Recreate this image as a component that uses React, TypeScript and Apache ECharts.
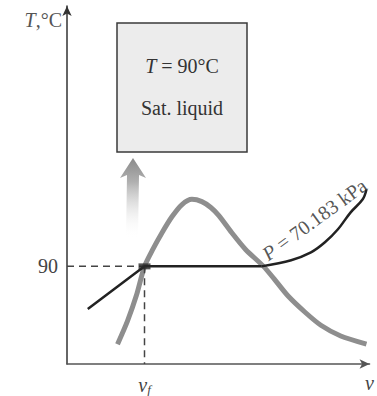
import React, { useEffect, useRef } from "react";
import * as echarts from "echarts";

// Axis settings (data units)
const tempMin = 60;
const tempMax = 170;
const tempInterval = 30;
const tempLabeled = 90;
const volMin = 0;
const volMax = 97.6;
const vF = 25;

// Saturation dome (specific volume v, temperature T)
const domeV = [16.3, 19.5, 22.4, 25.0, 27.5, 30.7, 33.9, 37.1, 40.3, 43.5, 46.4, 49.0, 53.1, 57.6, 63.4, 67.2, 71.4, 76.8, 81.9, 88.3, 96.6];
const domeT = [66.1, 73.2, 81.1, 90.0, 94.9, 100.4, 105.3, 109.0, 110.6, 109.9, 108.1, 105.6, 100.4, 95.2, 90.0, 85.7, 80.8, 75.9, 71.9, 68.6, 66.1];

// Isobar P = 70.183 kPa: compressed-liquid + saturated mixture segment
const isoStraightV = [6.7, 25.0, 62.7];
const isoStraightT = [76.9, 90.0, 90.0];
// Isobar: superheated-vapour segment
const isoCurveV = [62.7, 72.3, 78.7, 83.2, 87.4, 91.5, 95.4, 96.6];
const isoCurveT = [90.0, 91.9, 94.3, 97.4, 101.4, 106.6, 110.6, 113.6];

const isobarLabelPos = [79.8, 104.4];

const zip = (a: number[], b: number[]) => a.map((v, i) => [v, b[i]]);

const FONT = "'Liberation Serif', 'DejaVu Serif', serif";

export default function App() {
  const ref = useRef<HTMLDivElement>(null);
  useEffect(() => {
    if (!ref.current) return;
    const chart = echarts.init(ref.current, null, { renderer: "svg" });
    chart.setOption({
      animation: false,
      backgroundColor: "#ffffff",
      grid: { left: 67, right: 5, top: 6, bottom: 31 },
      xAxis: {
        type: "value",
        min: volMin,
        max: volMax,
        interval: vF,
        axisLine: {
          show: true,
          lineStyle: { color: "#555", width: 1.5 },
          symbol: ["none", "arrow"],
          symbolSize: [7, 10],
        },
        axisTick: { show: false },
        splitLine: { show: false },
        axisLabel: {
          margin: 9,
          showMaxLabel: true,
          formatter: (v: number) => (v === vF ? "{i|v}{s|f}" : v === volMax ? "{i|v}" : ""),
          rich: {
            i: { fontFamily: FONT, fontStyle: "italic", fontSize: 20, color: "#444" },
            s: { fontFamily: FONT, fontStyle: "italic", fontSize: 13, color: "#444", padding: [10, 0, 0, 0] },
          },
        },
      },
      yAxis: {
        type: "value",
        min: tempMin,
        max: tempMax,
        interval: tempInterval,
        name: "{i|T},°C",
        nameLocation: "end",
        nameGap: -14,
        nameTextStyle: {
          align: "right",
          verticalAlign: "middle",
          padding: [0, 5, 0, 0],
          fontFamily: FONT,
          fontSize: 20,
          color: "#555",
          rich: {
            i: { fontFamily: FONT, fontStyle: "italic", fontSize: 20, color: "#555" },
          },
        },
        axisLine: {
          show: true,
          lineStyle: { color: "#333", width: 1.5 },
          symbol: ["none", "arrow"],
          symbolSize: [7, 10],
        },
        axisTick: { show: false },
        splitLine: { show: false },
        axisLabel: {
          margin: 9,
          fontFamily: FONT,
          fontSize: 20,
          color: "#444",
          formatter: (v: number) => (v === tempLabeled ? String(tempLabeled) : ""),
        },
      },
      graphic: [
        {
          type: "rect",
          shape: { x: 117, y: 23, width: 130, height: 129 },
          style: { fill: "#ececec", stroke: "#3a3a3a", lineWidth: 1.5 },
          z: 10,
        },
        {
          type: "text",
          x: 182,
          y: 66,
          style: {
            text: "{i|T} = 90°C",
            align: "center",
            verticalAlign: "middle",
            font: `20px ${FONT}`,
            fill: "#333",
            rich: { i: { fontStyle: "italic", fontFamily: FONT, fontSize: 20, fill: "#333" } as any },
          },
          z: 11,
        },
        {
          type: "text",
          x: 182,
          y: 108,
          style: {
            text: "Sat. liquid",
            align: "center",
            verticalAlign: "middle",
            font: `20px ${FONT}`,
            fill: "#333",
          },
          z: 11,
        },
        {
          type: "polygon",
          shape: {
            points: [
              [133, 158],
              [146, 178],
              [139, 175],
              [138, 238],
              [126, 238],
              [127, 175],
              [120, 178],
            ],
          },
          style: {
            fill: {
              type: "linear",
              x: 0,
              y: 0,
              x2: 0,
              y2: 1,
              colorStops: [
                { offset: 0, color: "#8a8a8a" },
                { offset: 0.3, color: "#b0b0b0" },
                { offset: 1, color: "rgba(255,255,255,0)" },
              ],
            },
          },
          z: 1,
        },
      ],
      series: [
        {
          type: "line",
          data: zip(domeV, domeT),
          smooth: 0.25,
          symbol: "none",
          lineStyle: { color: "#8e8e8e", width: 5 },
          z: 2,
        },
        {
          type: "line",
          data: [[volMin, tempLabeled], [vF, tempLabeled]],
          symbol: "none",
          lineStyle: { color: "#444", width: 1.5, type: [7, 5] },
          z: 3,
        },
        {
          type: "line",
          data: [[vF, tempLabeled], [vF, tempMin]],
          symbol: "none",
          lineStyle: { color: "#444", width: 1.5, type: [7, 5] },
          z: 3,
        },
        {
          type: "line",
          data: zip(isoStraightV, isoStraightT),
          symbol: "none",
          lineStyle: { color: "#222", width: 2.5 },
          z: 4,
        },
        {
          type: "line",
          data: zip(isoCurveV, isoCurveT),
          smooth: 0.35,
          symbol: "none",
          lineStyle: { color: "#222", width: 2.5 },
          z: 4,
        },
        {
          type: "scatter",
          data: [[vF, tempLabeled]],
          symbol: "rect",
          symbolSize: [12, 6],
          itemStyle: { color: "#2a2a2a" },
          z: 5,
        },
        {
          type: "scatter",
          data: [isobarLabelPos],
          symbolSize: 0,
          label: {
            show: true,
            position: "inside",
            rotate: 36,
            formatter: "{i|P} = 70.183 kPa",
            fontFamily: FONT,
            fontSize: 20,
            color: "#2a2a2a",
            rich: { i: { fontFamily: FONT, fontStyle: "italic", fontSize: 20, color: "#2a2a2a" } },
          },
          z: 6,
        },
      ],
    });
    return () => chart.dispose();
  }, []);
  return <div ref={ref} style={{ position: "absolute", left: 0, top: 0, width: 377, height: 396 }} />;
}
